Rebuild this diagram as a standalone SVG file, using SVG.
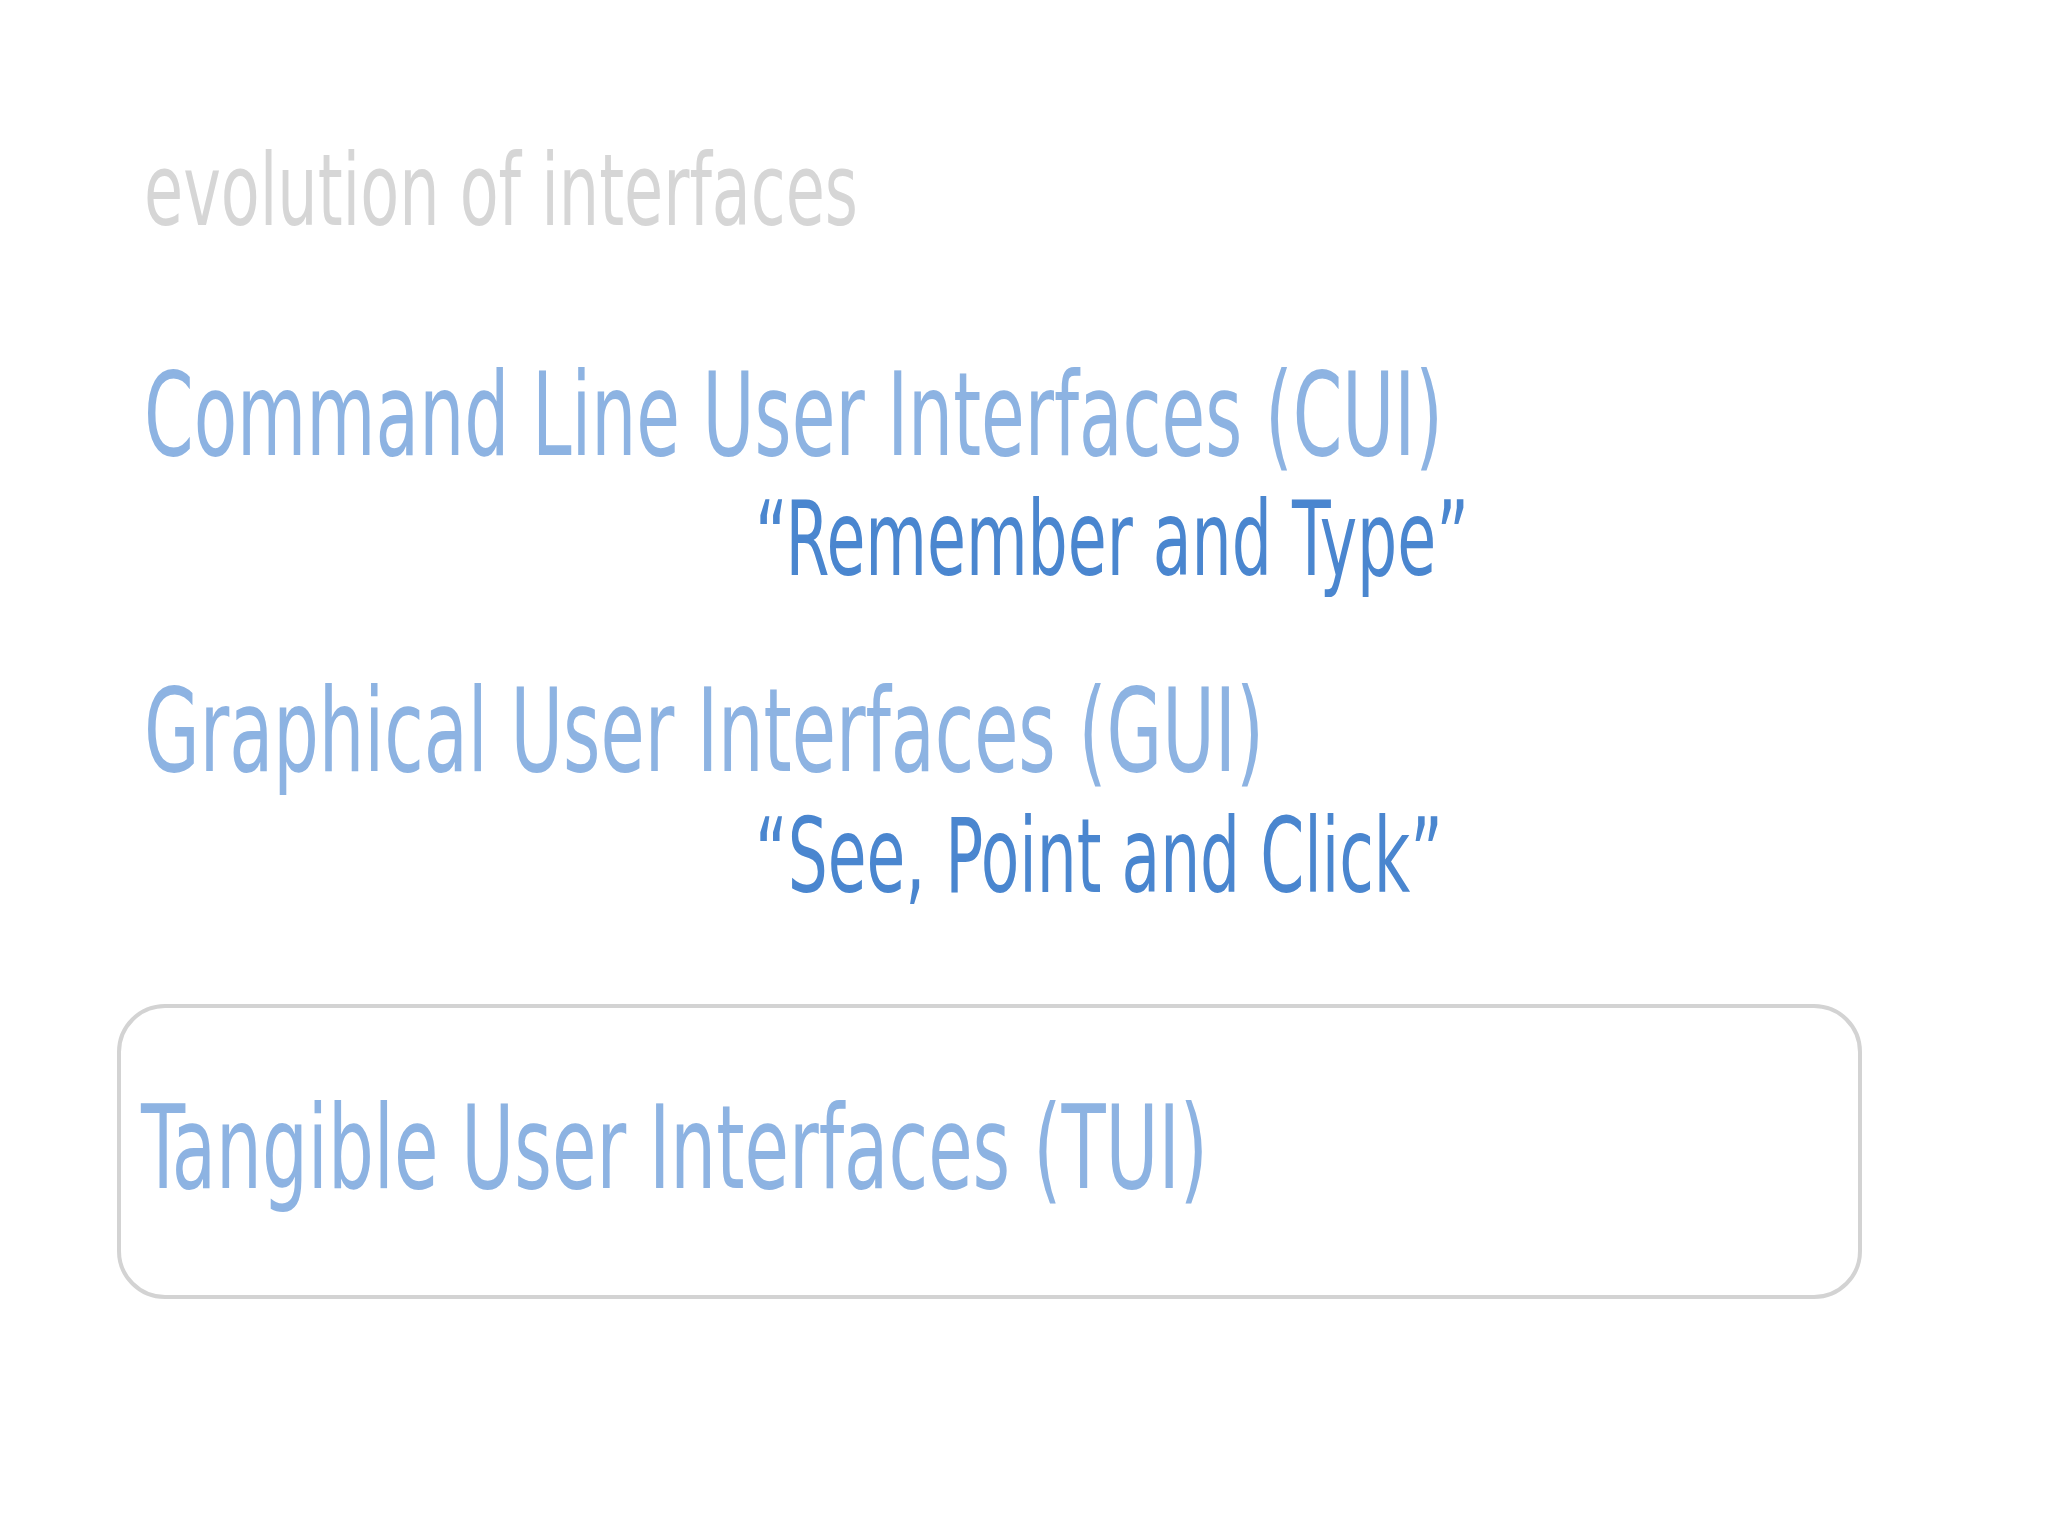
<svg xmlns="http://www.w3.org/2000/svg" width="2048" height="1536" viewBox="0 0 2048 1536">
<style>
text{font-family:"DejaVu Sans Condensed","Liberation Sans",sans-serif;}
.t{fill:#d6d6d6;font-size:100px;}
.h{fill:#8db3e2;font-size:116px;}
.q{fill:#4a86cf;font-size:104px;}
</style>
<rect width="2048" height="1536" fill="#ffffff"/>
<g id="title"><text class="t" x="144" y="225" textLength="714" lengthAdjust="spacingAndGlyphs">evolution of interfaces</text></g>
<g id="cui"><text class="h" x="144" y="455" textLength="1299" lengthAdjust="spacingAndGlyphs">Command Line User Interfaces (CUI)</text>
<text class="q" x="755" y="575" textLength="714" lengthAdjust="spacingAndGlyphs">“Remember and Type”</text></g>
<g id="gui"><text class="h" x="144" y="771" textLength="1120" lengthAdjust="spacingAndGlyphs">Graphical User Interfaces (GUI)</text>
<text class="q" x="755" y="892" textLength="688" lengthAdjust="spacingAndGlyphs">“See, Point and Click”</text></g>
<g id="tui"><rect x="119" y="1006" width="1741" height="291" rx="46" fill="none" stroke="#d3d3d3" stroke-width="4"/>
<text class="h" x="141" y="1188" textLength="1067" lengthAdjust="spacingAndGlyphs">Tangible User Interfaces (TUI)</text></g>
<g id="connectors"/>
</svg>
